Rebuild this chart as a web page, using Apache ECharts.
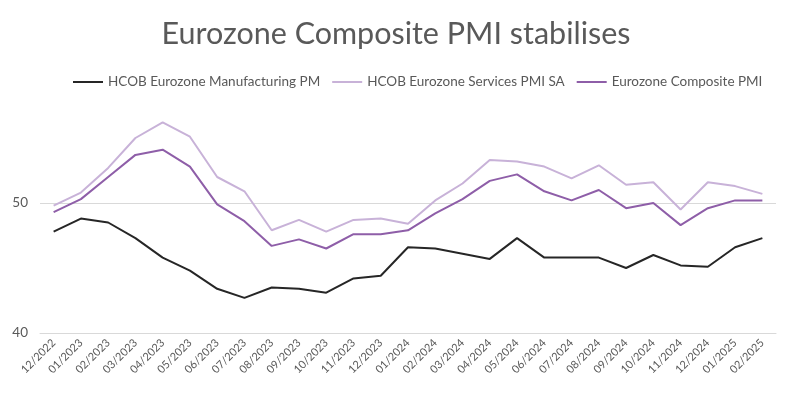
<!DOCTYPE html>
<html><head><meta charset="utf-8">
<script src="https://cdn.jsdelivr.net/npm/echarts@6/dist/echarts.min.js"></script>
<style>html,body{margin:0;padding:0;background:#fff}#c{width:792px;height:395px}</style>
</head><body><div id="c"></div>
<script>
var categories = ["12/2022","01/2023","02/2023","03/2023","04/2023","05/2023","06/2023","07/2023","08/2023","09/2023","10/2023","11/2023","12/2023","01/2024","02/2024","03/2024","04/2024","05/2024","06/2024","07/2024","08/2024","09/2024","10/2024","11/2024","12/2024","01/2025","02/2025"];
var manufacturing = [47.8,48.8,48.5,47.3,45.8,44.8,43.4,42.7,43.5,43.4,43.1,44.2,44.4,46.6,46.5,46.1,45.7,47.3,45.8,45.8,45.8,45.0,46.0,45.2,45.1,46.6,47.3];
var services = [49.8,50.8,52.7,55.0,56.2,55.1,52.0,50.9,47.9,48.7,47.8,48.7,48.8,48.4,50.2,51.5,53.3,53.2,52.8,51.9,52.9,51.4,51.6,49.5,51.6,51.3,50.7];
var composite = [49.3,50.3,52.0,53.7,54.1,52.8,49.9,48.6,46.7,47.2,46.5,47.6,47.6,47.9,49.2,50.3,51.7,52.2,50.9,50.2,51.0,49.6,50.0,48.3,49.6,50.2,50.2];
var seriesNames = ["HCOB Eurozone Manufacturing PM","HCOB Eurozone Services PMI SA","Eurozone Composite PMI"];

var FONT = "Lato";
var chart = echarts.init(document.getElementById('c'), null, {renderer:'canvas'});
function ln(name, data, color){
  return {name:name, type:'line', data:data, symbol:'none', smooth:false,
    lineStyle:{color:color, width:2}, itemStyle:{color:color}};
}
chart.setOption({
  animation:false,
  title:{text:'Eurozone Composite PMI stabilises', left:'center', top:14,
    textStyle:{fontFamily:FONT, fontSize:30.5, fontWeight:'normal', color:'#595959'}},
  legend:{left:68, top:70, itemWidth:30, itemHeight:2, itemGap:12,
    icon:'rect',
    textStyle:{fontFamily:FONT, fontSize:13.5, color:'#595959'},
    data:seriesNames},
  grid:{left:40, right:16, top:73, bottom:62, containLabel:false},
  xAxis:{type:'category', data:categories, boundaryGap:true,
    axisLine:{show:true, lineStyle:{color:'#d9d9d9'}}, axisTick:{show:false},
    axisLabel:{rotate:45, fontFamily:FONT, fontSize:11, color:'#595959', margin:8, interval:0}},
  yAxis:{type:'value', min:40, max:60, interval:10,
    axisLine:{show:false}, axisTick:{show:false},
    axisLabel:{fontFamily:FONT, fontSize:13.5, color:'#595959', margin:12, showMaxLabel:false},
    splitLine:{show:true, showMaxLine:false, lineStyle:{color:'#d9d9d9', width:1}}},
  series:[ln(seriesNames[0], manufacturing, '#262626'), ln(seriesNames[1], services, '#c8b2d8'), ln(seriesNames[2], composite, '#8e5ea8')]
});
</script></body></html>
